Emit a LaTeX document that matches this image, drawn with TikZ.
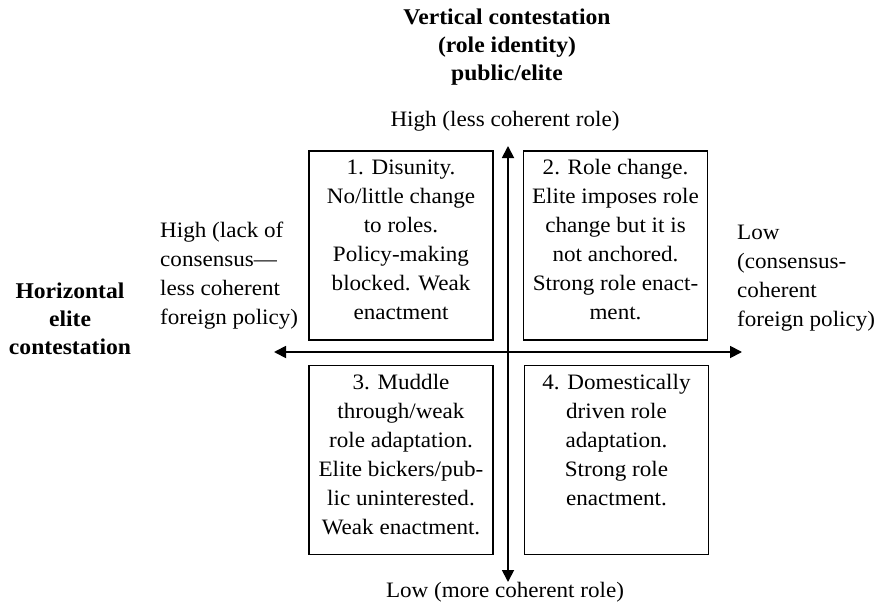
\documentclass[tikz,border=0pt]{standalone}
\usepackage{fontspec}
\setmainfont[FakeStretch=1.05]{Liberation Serif}
\usetikzlibrary{arrows.meta,positioning}

\tikzset{
  quad/.style={draw, line width=1.3pt, minimum width=184pt, minimum height=189pt, inner sep=0pt},
  quadtext/.style={align=center, font=\fontsize{22}{29}\selectfont, inner sep=0pt},
  axis/.style={line width=1.8pt, {Triangle[length=12pt,width=12pt]}-{Triangle[length=12pt,width=12pt]}},
  axislabel/.style={font=\fontsize{22}{29}\selectfont, inner sep=0pt},
  heading/.style={font=\bfseries\fontsize{22.5}{28}\selectfont, align=center, inner sep=0pt}
}

\begin{document}
\begin{tikzpicture}[x=1pt,y=-1pt]
  \useasboundingbox (0,0) rectangle (875,607);

  % titles and axis ends
  \node[heading] (vtitle) at (507,47) {Vertical contestation\\(role identity)\\public/elite};
  \node[heading] (htitle) at (70,319) {Horizontal\\elite\\contestation};
  \node[axislabel] (vhigh) at (505,121) {High (less coherent role)};
  \node[axislabel] (vlow) at (505,592) {Low (more coherent role)};
  \node[axislabel, align=left, anchor=west] (hhigh) at (160,276)
    {High (lack of\\consensus---\\less coherent\\foreign policy)};
  \node[axislabel, align=left, anchor=west] (hlow) at (737,278)
    {Low\\(consensus-\\coherent\\foreign policy)};

  % the four boxes
  \node[quad] (b1) at (401,245.5) {};
  \node[quad] (b2) at (615.5,245.5) {};
  \node[quad] (b3) at (401,460) {};
  \node[quad] (b4) at (616.5,460) {};

  \node[quadtext, below=9pt of b1.north] (t1)
    {1. Disunity.\\No/little change\\to roles.\\Policy-making\\blocked. Weak\\enactment};
  \node[quadtext, below=9pt of b2.north] (t2)
    {2. Role change.\\Elite imposes role\\change but it is\\not anchored.\\Strong role enact-\\ment.};
  \node[quadtext, below=9pt of b3.north] (t3)
    {3. Muddle\\through/weak\\role adaptation.\\Elite bickers/pub-\\lic uninterested.\\Weak enactment.};
  \node[quadtext, below=9pt of b4.north] (t4)
    {4. Domestically\\driven role\\adaptation.\\Strong role\\enactment.};

  % axes
  \coordinate (top) at (508,146);
  \coordinate (bottom) at (508,582);
  \coordinate (left) at (274,352);
  \coordinate (right) at (742,352);
  \draw[axis] (bottom) -- (top);
  \draw[axis] (left) -- (right);
\end{tikzpicture}
\end{document}
